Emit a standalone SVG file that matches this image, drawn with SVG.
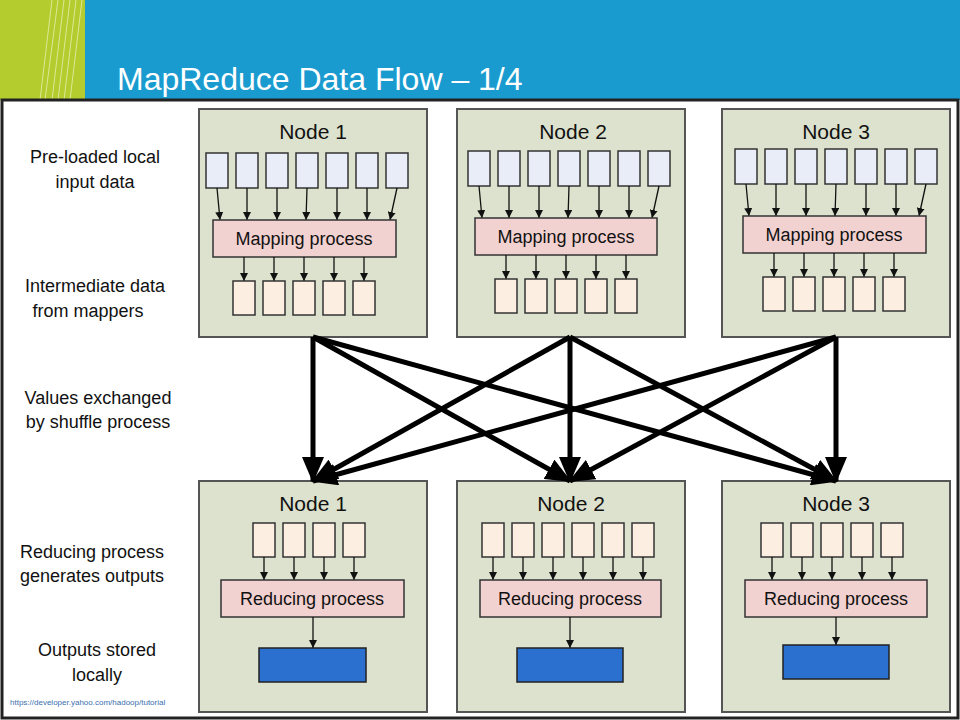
<svg xmlns="http://www.w3.org/2000/svg" width="960" height="720" viewBox="0 0 960 720">
<style>
text{font-family:"Liberation Sans",Arial,sans-serif;fill:#111}
.node{fill:#dce2cd;stroke:#555;stroke-width:2}
.in{fill:#e9edf8;stroke:#333;stroke-width:1.5}
.mid{fill:#fcefe2;stroke:#333;stroke-width:1.5}
.proc{fill:#f2d2d0;stroke:#333;stroke-width:1.5}
.out{fill:#2b6fcf;stroke:#222;stroke-width:1.5}
.a{stroke:#111;stroke-width:1.3;marker-end:url(#sa)}
.big{stroke:#000;stroke-width:5;marker-end:url(#ba)}
.lbl{font-size:18px;text-anchor:middle}
.nt{font-size:21px;text-anchor:middle}
.pt{font-size:18px;text-anchor:middle}
</style>
<defs>
<marker id="sa" markerWidth="8" markerHeight="8" refX="8" refY="4" orient="auto" markerUnits="userSpaceOnUse"><path d="M0,0L8,4L0,8z" fill="#111"/></marker>
<marker id="ba" markerWidth="26" markerHeight="22" refX="24" refY="11" orient="auto" markerUnits="userSpaceOnUse"><path d="M0,0L26,11L0,22z" fill="#000"/></marker>
</defs>
<rect x="0" y="0" width="960" height="100" fill="#1a9bd0"/>
<rect x="0" y="0" width="85" height="100" fill="#b5cc2e"/>
<g stroke="#e8efb0" stroke-width="1" opacity="0.8">
<line x1="40" y1="100" x2="52" y2="0"/><line x1="45" y1="100" x2="58" y2="0"/><line x1="52" y1="100" x2="64" y2="0"/><line x1="58" y1="100" x2="70" y2="0"/><line x1="64" y1="100" x2="76" y2="0"/><line x1="70" y1="100" x2="82" y2="0"/>
</g>
<text x="117" y="90" style="font-size:32px;fill:#fff">MapReduce Data Flow – 1/4</text>
<rect x="2" y="100" width="956" height="618" fill="#fff" stroke="#222" stroke-width="3"/>
<g id="labels">
<text class="lbl" x="95" y="163">Pre-loaded local</text><text class="lbl" x="95" y="188">input data</text>
<text class="lbl" x="95" y="292">Intermediate data</text><text class="lbl" x="88" y="317">from mappers</text>
<text class="lbl" x="98" y="404">Values exchanged</text><text class="lbl" x="98" y="428">by shuffle process</text>
<text class="lbl" x="92" y="558">Reducing process</text><text class="lbl" x="92" y="582">generates outputs</text>
<text class="lbl" x="97" y="656">Outputs stored</text><text class="lbl" x="97" y="681">locally</text>
<text x="10" y="705" style="font-size:8px;fill:#3a6fb0">https://developer.yahoo.com/hadoop/tutorial</text>
</g>
<g id="map1">
<rect class="node" x="199" y="109" width="228" height="228"/>
<text class="nt" x="313" y="139">Node 1</text>
<rect class="in" x="206" y="153" width="22" height="35"/><rect class="in" x="236" y="153" width="22" height="35"/><rect class="in" x="266" y="153" width="22" height="35"/><rect class="in" x="296" y="153" width="22" height="35"/><rect class="in" x="326" y="153" width="22" height="35"/><rect class="in" x="356" y="153" width="22" height="35"/><rect class="in" x="386" y="153" width="22" height="35"/>
<g><line class="a" x1="217" y1="188" x2="220" y2="220"/><line class="a" x1="247" y1="188" x2="247" y2="220"/><line class="a" x1="277" y1="188" x2="277" y2="220"/><line class="a" x1="307" y1="188" x2="306" y2="220"/><line class="a" x1="337" y1="188" x2="337" y2="220"/><line class="a" x1="367" y1="188" x2="367" y2="220"/><line class="a" x1="397" y1="188" x2="390" y2="220"/></g>
<rect class="proc" x="213" y="220" width="183" height="37"/>
<text class="pt" x="304" y="245">Mapping process</text>
<g><line class="a" x1="244" y1="257" x2="244" y2="281"/><line class="a" x1="274" y1="257" x2="274" y2="281"/><line class="a" x1="304" y1="257" x2="304" y2="281"/><line class="a" x1="334" y1="257" x2="334" y2="281"/><line class="a" x1="364" y1="257" x2="364" y2="281"/></g>
<rect class="mid" x="233" y="281" width="22" height="34"/><rect class="mid" x="263" y="281" width="22" height="34"/><rect class="mid" x="293" y="281" width="22" height="34"/><rect class="mid" x="323" y="281" width="22" height="34"/><rect class="mid" x="353" y="281" width="22" height="34"/>
</g>
<g id="map2">
<rect class="node" x="457" y="109" width="228" height="228"/>
<text class="nt" x="573" y="139">Node 2</text>
<rect class="in" x="468" y="151" width="22" height="35"/><rect class="in" x="498" y="151" width="22" height="35"/><rect class="in" x="528" y="151" width="22" height="35"/><rect class="in" x="558" y="151" width="22" height="35"/><rect class="in" x="588" y="151" width="22" height="35"/><rect class="in" x="618" y="151" width="22" height="35"/><rect class="in" x="648" y="151" width="22" height="35"/>
<g><line class="a" x1="479" y1="186" x2="482" y2="218"/><line class="a" x1="509" y1="186" x2="509" y2="218"/><line class="a" x1="539" y1="186" x2="539" y2="218"/><line class="a" x1="569" y1="186" x2="568" y2="218"/><line class="a" x1="599" y1="186" x2="599" y2="218"/><line class="a" x1="629" y1="186" x2="629" y2="218"/><line class="a" x1="659" y1="186" x2="652" y2="218"/></g>
<rect class="proc" x="475" y="218" width="182" height="37"/>
<text class="pt" x="566" y="243">Mapping process</text>
<g><line class="a" x1="506" y1="255" x2="506" y2="279"/><line class="a" x1="536" y1="255" x2="536" y2="279"/><line class="a" x1="566" y1="255" x2="566" y2="279"/><line class="a" x1="596" y1="255" x2="596" y2="279"/><line class="a" x1="626" y1="255" x2="626" y2="279"/></g>
<rect class="mid" x="495" y="279" width="22" height="34"/><rect class="mid" x="525" y="279" width="22" height="34"/><rect class="mid" x="555" y="279" width="22" height="34"/><rect class="mid" x="585" y="279" width="22" height="34"/><rect class="mid" x="615" y="279" width="22" height="34"/>
</g>
<g id="map3">
<rect class="node" x="722" y="109" width="228" height="228"/>
<text class="nt" x="836" y="139">Node 3</text>
<rect class="in" x="735" y="149" width="22" height="35"/><rect class="in" x="765" y="149" width="22" height="35"/><rect class="in" x="795" y="149" width="22" height="35"/><rect class="in" x="825" y="149" width="22" height="35"/><rect class="in" x="855" y="149" width="22" height="35"/><rect class="in" x="885" y="149" width="22" height="35"/><rect class="in" x="915" y="149" width="22" height="35"/>
<g><line class="a" x1="746" y1="184" x2="749" y2="216"/><line class="a" x1="776" y1="184" x2="776" y2="216"/><line class="a" x1="806" y1="184" x2="806" y2="216"/><line class="a" x1="836" y1="184" x2="835" y2="216"/><line class="a" x1="866" y1="184" x2="866" y2="216"/><line class="a" x1="896" y1="184" x2="896" y2="216"/><line class="a" x1="926" y1="184" x2="919" y2="216"/></g>
<rect class="proc" x="743" y="216" width="183" height="37"/>
<text class="pt" x="834" y="241">Mapping process</text>
<g><line class="a" x1="774" y1="253" x2="774" y2="277"/><line class="a" x1="804" y1="253" x2="804" y2="277"/><line class="a" x1="834" y1="253" x2="834" y2="277"/><line class="a" x1="864" y1="253" x2="864" y2="277"/><line class="a" x1="894" y1="253" x2="894" y2="277"/></g>
<rect class="mid" x="763" y="277" width="22" height="34"/><rect class="mid" x="793" y="277" width="22" height="34"/><rect class="mid" x="823" y="277" width="22" height="34"/><rect class="mid" x="853" y="277" width="22" height="34"/><rect class="mid" x="883" y="277" width="22" height="34"/>
</g>
<g id="red1">
<rect class="node" x="199" y="481" width="228" height="231"/>
<text class="nt" x="313" y="511">Node 1</text>
<rect class="mid" x="253" y="523" width="22" height="34"/><rect class="mid" x="283" y="523" width="22" height="34"/><rect class="mid" x="313" y="523" width="22" height="34"/><rect class="mid" x="343" y="523" width="22" height="34"/>
<g><line class="a" x1="264" y1="557" x2="264" y2="580"/><line class="a" x1="294" y1="557" x2="294" y2="580"/><line class="a" x1="324" y1="557" x2="324" y2="580"/><line class="a" x1="354" y1="557" x2="354" y2="580"/></g>
<rect class="proc" x="221" y="580" width="183" height="37"/>
<text class="pt" x="312" y="605">Reducing process</text>
<line class="a" x1="313" y1="617" x2="313" y2="648"/>
<rect class="out" x="259" y="648" width="107" height="34"/>
</g>
<g id="red2">
<rect class="node" x="457" y="481" width="228" height="231"/>
<text class="nt" x="571" y="511">Node 2</text>
<rect class="mid" x="482" y="523" width="22" height="34"/><rect class="mid" x="512" y="523" width="22" height="34"/><rect class="mid" x="542" y="523" width="22" height="34"/><rect class="mid" x="572" y="523" width="22" height="34"/><rect class="mid" x="602" y="523" width="22" height="34"/><rect class="mid" x="632" y="523" width="22" height="34"/>
<g><line class="a" x1="493" y1="557" x2="493" y2="580"/><line class="a" x1="523" y1="557" x2="523" y2="580"/><line class="a" x1="553" y1="557" x2="553" y2="580"/><line class="a" x1="583" y1="557" x2="583" y2="580"/><line class="a" x1="613" y1="557" x2="613" y2="580"/><line class="a" x1="643" y1="557" x2="643" y2="580"/></g>
<rect class="proc" x="480" y="580" width="181" height="37"/>
<text class="pt" x="570" y="605">Reducing process</text>
<line class="a" x1="570" y1="617" x2="570" y2="648"/>
<rect class="out" x="517" y="648" width="106" height="34"/>
</g>
<g id="red3">
<rect class="node" x="722" y="481" width="228" height="231"/>
<text class="nt" x="836" y="511">Node 3</text>
<rect class="mid" x="761" y="523" width="22" height="34"/><rect class="mid" x="791" y="523" width="22" height="34"/><rect class="mid" x="821" y="523" width="22" height="34"/><rect class="mid" x="851" y="523" width="22" height="34"/><rect class="mid" x="881" y="523" width="22" height="34"/>
<g><line class="a" x1="772" y1="557" x2="772" y2="580"/><line class="a" x1="802" y1="557" x2="802" y2="580"/><line class="a" x1="832" y1="557" x2="832" y2="580"/><line class="a" x1="862" y1="557" x2="862" y2="580"/><line class="a" x1="892" y1="557" x2="892" y2="580"/></g>
<rect class="proc" x="745" y="580" width="182" height="37"/>
<text class="pt" x="836" y="605">Reducing process</text>
<line class="a" x1="836" y1="617" x2="836" y2="645"/>
<rect class="out" x="783" y="645" width="106" height="34"/>
</g>
<g id="connectors">
<line class="big" x1="313" y1="337" x2="313" y2="481"/>
<line class="big" x1="313" y1="337" x2="570" y2="481"/>
<line class="big" x1="313" y1="337" x2="836" y2="481"/>
<line class="big" x1="570" y1="337" x2="313" y2="481"/>
<line class="big" x1="570" y1="337" x2="570" y2="481"/>
<line class="big" x1="570" y1="337" x2="836" y2="481"/>
<line class="big" x1="836" y1="337" x2="313" y2="481"/>
<line class="big" x1="836" y1="337" x2="570" y2="481"/>
<line class="big" x1="836" y1="337" x2="836" y2="481"/>
</g>
</svg>
